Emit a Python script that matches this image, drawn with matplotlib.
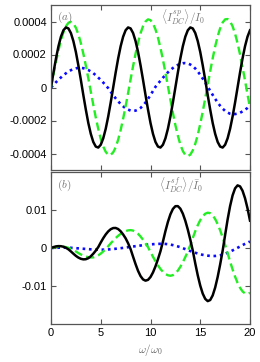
import numpy as np
import matplotlib
matplotlib.use("Agg")
import matplotlib.pyplot as plt

omega = np.arange(0, 20.001, 0.25)

# panel (a): <I^sp_DC>/I_0   (units of 1e-4)
a_black = np.array([
    0, 0.91, 1.76, 2.50, 3.08, 3.47, 3.64, 3.58, 3.30, 2.81, 2.15, 1.34, 0.46, -0.46, -1.34, -2.15,
    -2.81, -3.30, -3.58, -3.64, -3.47, -3.08, -2.50, -1.76, -0.91, 0,
    0.91, 1.76, 2.50, 3.08, 3.47, 3.64, 3.58, 3.30, 2.81, 2.15, 1.34, 0.46, -0.46, -1.34, -2.15,
    -2.81, -3.30, -3.58, -3.64, -3.47, -3.08, -2.50, -1.76, -0.91, 0,
    0.91, 1.76, 2.50, 3.08, 3.47, 3.64, 3.58, 3.30, 2.81, 2.15, 1.34, 0.46, -0.46, -1.34, -2.15,
    -2.81, -3.30, -3.58, -3.64, -3.47, -3.08, -2.50, -1.76, -0.91, 0,
    0.91, 1.76, 2.50, 3.08, 3.47]) * 1e-4
a_green = np.array([
    0, 0.79, 1.55, 2.25, 2.86, 3.35, 3.71, 3.92, 3.98, 3.88, 3.62, 3.22, 2.69, 2.05, 1.33, 0.56,
    -0.25, -1.05, -1.82, -2.51, -3.11, -3.58, -3.90, -4.08, -4.08, -3.93, -3.62, -3.16, -2.58, -1.89,
    -1.13, -0.33,
    0.50, 1.30, 2.05, 2.73, 3.29, 3.72, 4.00, 4.13, 4.08, 3.88, 3.52, 3.02, 2.40, 1.69, 0.90, 0.08,
    -0.74, -1.54, -2.28, -2.92, -3.46, -3.85, -4.09, -4.16, -4.07, -3.81, -3.41, -2.87, -2.21, -1.46,
    -0.66, 0.17, 0.99, 1.77, 2.49, 3.10, 3.59, 3.94, 4.13, 4.15, 4.01, 3.71, 3.26, 2.68, 2.00, 1.23,
    0.42, -0.42, -1.23]) * 1e-4
a_blue = np.array([
    0, 0.16, 0.32, 0.47, 0.61, 0.75, 0.86, 0.97, 1.05, 1.12, 1.16, 1.19, 1.19, 1.17, 1.12, 1.06,
    0.97, 0.87, 0.74, 0.60, 0.46, 0.30, 0.13, -0.04, -0.26, -0.46, -0.66, -0.84, -1.00, -1.14,
    -1.26, -1.34, -1.40, -1.42, -1.40, -1.34, -1.24, -1.09, -0.91, -0.69, -0.46, -0.21, 0.04, 0.23,
    0.41, 0.59, 0.76, 0.92, 1.06, 1.18, 1.29, 1.37, 1.43, 1.47, 1.48, 1.46, 1.39, 1.29, 1.15, 0.97,
    0.77, 0.54, 0.30, 0.05, -0.20, -0.45, -0.69, -0.91, -1.11, -1.28, -1.42, -1.52, -1.59, -1.62,
    -1.61, -1.58, -1.53, -1.45, -1.35, -1.24, -1.10]) * 1e-4

# panel (b): <I^sf_DC>/bar I_0   (units of 1e-3)
b_black = np.array([
    0, 0.24, 0.42, 0.50, 0.47, 0.33, 0.05, -0.35, -0.90, -1.50, -2.07, -2.52, -2.84, -2.99, -2.95,
    -2.68, -2.18, -1.50, -0.69, 0.24, 1.45, 2.58, 3.57, 4.37, 4.94, 5.25, 5.27, 4.99, 4.40, 3.56,
    2.55, 1.25, -0.30, -2.30, -4.25, -6.02, -7.39, -8.27, -8.60, -8.38, -7.64, -6.43, -4.83, -2.94,
    -0.86, 1.70, 4.43, 6.87, 8.86, 10.27, 11.0, 11.02, 10.35, 9.04, 7.16, 4.84, 2.20, -0.69, -4.07,
    -7.20, -9.90, -12.01, -13.39, -13.98, -13.69, -12.48, -10.40, -7.63, -4.33, -0.73, 3.43, 7.49,
    11.04, 13.84, 15.69, 16.48, 16.22, 15.07, 13.1, 10.44, 7.2]) * 1e-3
b_green = np.array([
    0, 0.17, 0.31, 0.39, 0.40, 0.35, 0.22, 0.05, -0.20, -0.55, -0.91, -1.33, -1.70, -2.01, -2.25,
    -2.41, -2.49, -2.47, -2.28, -1.94, -1.47, -0.90, -0.26, 0.46, 1.22, 1.94, 2.61, 3.21, 3.73,
    4.15, 4.45, 4.64, 4.70, 4.59, 4.26, 3.73, 3.02, 2.17, 1.22, 0.21, -1.04, -2.30, -3.50, -4.58,
    -5.52, -6.28, -6.84, -7.18, -7.30, -7.15, -6.69, -5.94, -4.94, -3.75, -2.37, -0.90, 0.77, 2.65,
    4.43, 6.01, 7.34, 8.35, 9.02, 9.29, 9.16, 8.59, 7.62, 6.29, 4.65, 2.80, 0.81, -1.35, -3.57,
    -5.65, -7.54, -9.17, -10.48, -11.42, -11.96, -12.1, -11.8]) * 1e-3
b_blue = np.array([
    0, 0.03, 0.05, 0.08, 0.1, 0.1, 0.1, 0.08, 0.05, 0.0, -0.05, -0.1, -0.15, -0.2, -0.25, -0.3,
    -0.35, -0.39, -0.42, -0.44, -0.45, -0.44, -0.42, -0.38, -0.33, -0.27, -0.2, -0.13, -0.05, 0.03,
    0.12, 0.21, 0.3, 0.39, 0.48, 0.57, 0.65, 0.74, 0.82, 0.89, 0.95, 1.0, 1.05, 1.08, 1.1, 1.1,
    1.07, 1.0, 0.9, 0.76, 0.6, 0.41, 0.2, -0.05, -0.3, -0.55, -0.8, -1.03, -1.25, -1.46, -1.65,
    -1.8, -1.92, -2.01, -2.08, -2.11, -2.1, -2.03, -1.92, -1.73, -1.5, -1.24, -0.95, -0.63, -0.3,
    0.05, 0.4, 0.75, 1.1, 1.4, 1.7]) * 1e-3

xticks = [0, 5, 10, 15, 20]
xticklabels = ["0", "5", "10", "15", "20"]
a_yticks = [-0.0004, -0.0002, 0, 0.0002, 0.0004]
a_yticklabels = ["-0.0004", "-0.0002", "0", "0.0002", "0.0004"]
b_yticks = [-0.01, 0, 0.01]
b_yticklabels = ["-0.01", "0", "0.01"]

plt.rcParams['font.family'] = ['Liberation Sans', 'DejaVu Sans']
plt.rcParams['mathtext.fontset'] = 'cm'

W, H = 260, 362
fig = plt.figure(figsize=(W / 100, H / 100), dpi=100)
ax1 = fig.add_axes([51 / W, 1 - 170 / H, 199 / W, 165 / H])
ax2 = fig.add_axes([51 / W, 1 - 324 / H, 199 / W, 152 / H])

green = '#22ee22'
blue = '#0a0aff'
for ax, yb, yg, yk in [(ax1, a_blue, a_green, a_black), (ax2, b_blue, b_green, b_black)]:
    ax.plot(omega, yb, color=blue, lw=1.9, linestyle=(0, (1, 1.4)))
    ax.plot(omega, yg, color=green, lw=1.7, linestyle=(0, (3.5, 1.8)))
    ax.plot(omega, yk, color='black', lw=1.8)
    ax.set_xlim(0, 20)
    ax.set_xticks(xticks)
    ax.tick_params(direction='in', top=True, right=True, length=3.5, width=0.8,
                   labelsize=8, color='#555555', pad=3)
    for s in ax.spines.values():
        s.set_color('#555555')
        s.set_linewidth(0.9)

ax1.set_ylim(-0.0005, 0.0005)
ax1.set_yticks(a_yticks)
ax1.set_yticklabels(a_yticklabels)
ax1.set_xticklabels([])
ax2.set_ylim(-0.02, 0.02)
ax2.set_yticks(b_yticks)
ax2.set_yticklabels(b_yticklabels)
ax2.set_xticklabels(xticklabels)
ax2.set_xlabel(r'$\omega/\omega_0$', fontsize=8, color='#666666', labelpad=3)

tc = '#777777'
ax1.text(0.03, 0.925, r'$(a)$', transform=ax1.transAxes, fontsize=8, color=tc, va='center')
ax1.text(0.775, 0.925, r'$\langle I_{DC}^{sp}\rangle/I_0$', transform=ax1.transAxes,
         fontsize=8, color=tc, va='center', ha='right')
ax2.text(0.03, 0.91, r'$(b)$', transform=ax2.transAxes, fontsize=8, color=tc, va='center')
ax2.text(0.765, 0.91, r'$\langle I_{DC}^{sf}\rangle/\bar{I}_0$', transform=ax2.transAxes,
         fontsize=8, color=tc, va='center', ha='right')

fig.savefig('out.png', dpi=100)
